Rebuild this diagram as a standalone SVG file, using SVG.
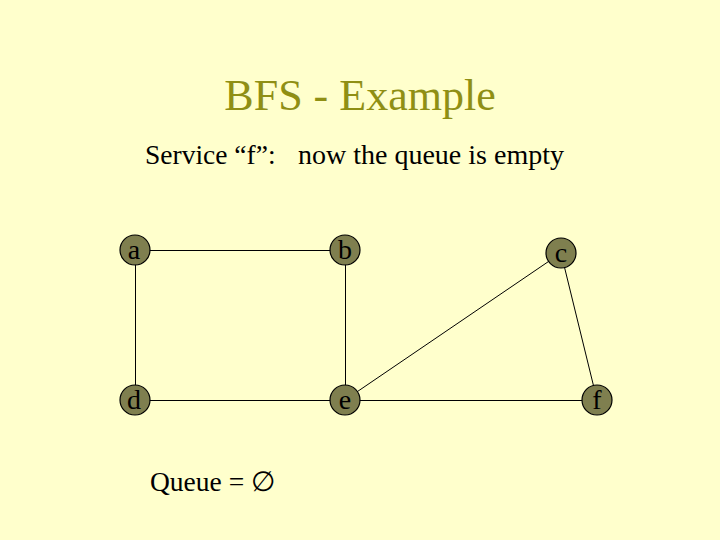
<svg xmlns="http://www.w3.org/2000/svg" width="720" height="540" viewBox="0 0 720 540">
<style>
.t{font-family:"Liberation Serif","Times New Roman",serif;}
.node circle{fill:#7f7f4f;stroke:#000;stroke-width:1.2;}
.node text{font-family:"Liberation Serif",serif;font-size:28px;fill:#000;text-anchor:middle;}
.edges line{stroke:#000;stroke-width:1;}
</style>
<rect width="720" height="540" fill="#ffffcc"/>
<text class="t" x="360" y="110" font-size="44" fill="#8f8f14" text-anchor="middle">BFS - Example</text>
<text class="t" x="145" y="164" font-size="27.5" fill="#000">Service “f”:</text>
<text class="t" x="298" y="164" font-size="28" fill="#000">now the queue is empty</text>
<g id="edges" class="edges">
<line x1="135" y1="250.5" x2="345" y2="250.5"/>
<line x1="135.5" y1="250" x2="135.5" y2="400"/>
<line x1="345.5" y1="250" x2="345.5" y2="400"/>
<line x1="135" y1="400.5" x2="597" y2="400.5"/>
<line x1="345" y1="400" x2="561" y2="253"/>
<line x1="561" y1="253" x2="597" y2="400"/>
</g>
<g id="node-a" class="node"><circle cx="135" cy="250" r="15"/><text x="134" y="259">a</text></g>
<g id="node-b" class="node"><circle cx="345" cy="250" r="15"/><text x="345" y="259">b</text></g>
<g id="node-c" class="node"><circle cx="561" cy="253" r="15"/><text x="561" y="262">c</text></g>
<g id="node-d" class="node"><circle cx="135" cy="400" r="15"/><text x="134" y="409">d</text></g>
<g id="node-e" class="node"><circle cx="345" cy="400" r="15"/><text x="345" y="409">e</text></g>
<g id="node-f" class="node"><circle cx="597" cy="400" r="15"/><text x="597" y="409">f</text></g>
<text class="t" x="150" y="491" font-size="27.5" fill="#000">Queue = ∅</text>
</svg>
